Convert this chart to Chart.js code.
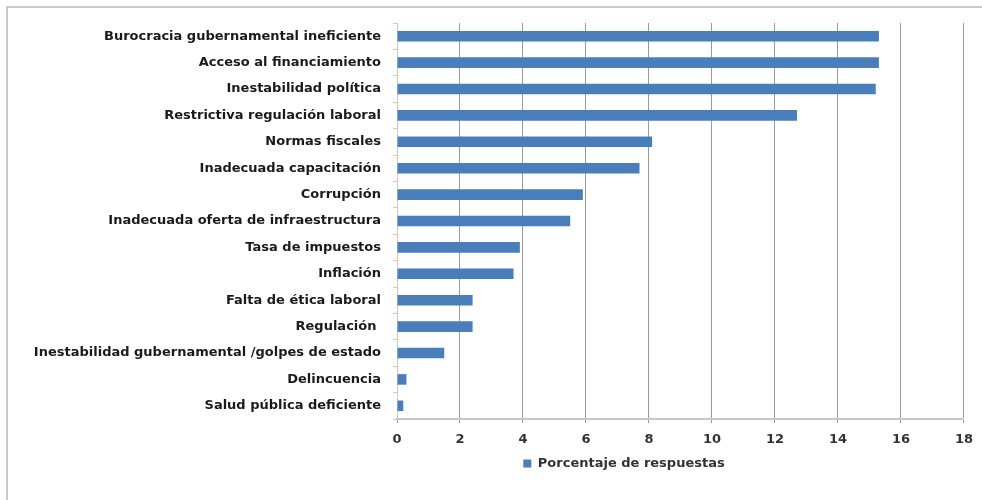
<!DOCTYPE html>
<html>
<head>
<meta charset="utf-8">
<script src="https://cdn.jsdelivr.net/npm/chart.js@4"></script>
<style>
  html, body { margin: 0; padding: 0; background: #fff; }
  #wrap { position: relative; width: 982px; height: 500px; }
</style>
</head>
<body>
<div id="wrap"><canvas id="chart" width="982" height="500"></canvas></div>
<script>
// categorías (de arriba hacia abajo)
const categorias = [
  'Burocracia gubernamental ineficiente',
  'Acceso al financiamiento',
  'Inestabilidad política',
  'Restrictiva regulación laboral',
  'Normas fiscales',
  'Inadecuada capacitación',
  'Corrupción',
  'Inadecuada oferta de infraestructura',
  'Tasa de impuestos',
  'Inflación',
  'Falta de ética laboral',
  'Regulación ',
  'Inestabilidad gubernamental /golpes de estado',
  'Delincuencia',
  'Salud pública deficiente'
];

// porcentaje de respuestas
const porcentajes = [15.3, 15.3, 15.2, 12.7, 8.1, 7.7, 5.9, 5.5, 3.9, 3.7, 2.4, 2.4, 1.5, 0.3, 0.2];

const serieNombre = 'Porcentaje de respuestas';
const ejeMin = 0;
const ejeMax = 18;
const ejePaso = 2;

const fuente = '"DejaVu Sans", "Open Sans", sans-serif';

// marco del gráfico (solo borde superior e izquierdo visibles)
const marco = {
  id: 'marco',
  beforeDraw(chart) {
    const ctx = chart.ctx;
    ctx.save();
    ctx.strokeStyle = '#c8c8c8';
    ctx.lineWidth = 2;
    ctx.beginPath();
    ctx.moveTo(7, 500);
    ctx.lineTo(7, 7);
    ctx.lineTo(982, 7);
    ctx.stroke();
    ctx.restore();
  }
};

// desplaza la leyenda hacia la derecha como en el original
const leyendaPos = {
  id: 'leyendaPos',
  afterLayout(chart) {
    const lg = chart.legend;
    const shift = 624 - (lg.left + lg.right) / 2;
    lg.left += shift;
    lg.right += shift;
  }
};

new Chart(document.getElementById('chart'), {
  type: 'bar',
  data: {
    labels: categorias,
    datasets: [{
      label: serieNombre,
      data: porcentajes,
      backgroundColor: '#4a7ebb',
      borderWidth: 0,
      barPercentage: 0.4,
      categoryPercentage: 1
    }]
  },
  options: {
    indexAxis: 'y',
    responsive: false,
    animation: false,
    layout: {
      padding: { top: 23, right: 17, bottom: 20, left: 0 }
    },
    plugins: {
      legend: {
        position: 'bottom',
        labels: {
          boxWidth: 8,
          boxHeight: 8,
          padding: 10,
          color: '#333',
          font: { family: fuente, size: 13, weight: 'bold' }
        }
      },
      tooltip: { enabled: false }
    },
    scales: {
      x: {
        min: ejeMin,
        max: ejeMax,
        ticks: {
          stepSize: ejePaso,
          color: '#333',
          padding: 9,
          font: { family: fuente, size: 13, weight: 'bold' }
        },
        grid: {
          color: '#9a9a9a',
          lineWidth: 1,
          tickLength: 4,
          drawTicks: true
        },
        border: { color: '#c8c8c8', width: 2 },
        afterFit(scale) { scale.height = 28; }
      },
      y: {
        ticks: {
          color: '#1a1a1a',
          padding: 12,
          autoSkip: false,
          font: { family: fuente, size: 13, weight: 'bold' }
        },
        grid: {
          display: true,
          drawOnChartArea: false,
          tickLength: 4,
          color: '#e8c89a'
        },
        border: { color: '#c8c8c8', width: 1 },
        afterFit(scale) { scale.width = 397; }
      }
    }
  },
  plugins: [marco, leyendaPos]
});
</script>
</body>
</html>
